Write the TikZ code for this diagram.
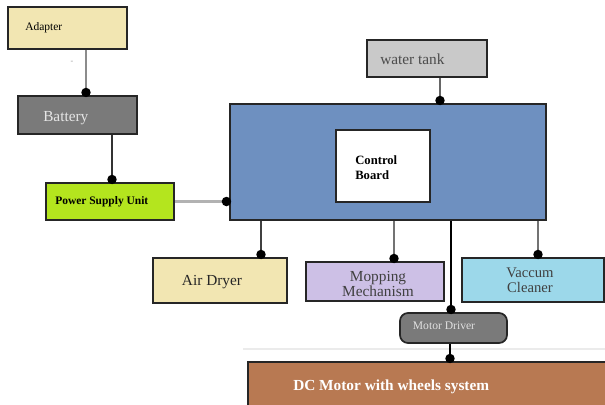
\documentclass[tikz,border=0pt]{standalone}
\usepackage{fontspec}
\setmainfont{Liberation Serif}
\usetikzlibrary{arrows.meta}
\definecolor{sand}{RGB}{242,230,178}
\definecolor{slate}{RGB}{122,122,122}
\definecolor{lime}{RGB}{180,229,30}
\definecolor{steel}{RGB}{110,144,192}
\definecolor{silver}{RGB}{201,201,201}
\definecolor{lilac}{RGB}{205,192,230}
\definecolor{sky}{RGB}{156,216,234}
\definecolor{rust}{RGB}{184,121,82}
\tikzset{
  box/.style={draw=black!85, line width=1.3pt, inner sep=0pt, align=center},
  wire/.style={line width=1.2pt, -{Circle[length=7pt, color=black]}, shorten >=-1.5pt},
  lbl/.style={inner sep=0pt, align=left}
}
\begin{document}
\begin{tikzpicture}[x=0.75pt,y=-0.75pt]
\useasboundingbox (0,0) rectangle (605,404);
% power chain
\node[box, fill=sand, minimum width=89.25pt, minimum height=31.5pt] (adapter) at (67.5,28) {};
\node[lbl, anchor=west, font=\fontsize{8.6}{9}\selectfont] (adaptertxt) at (25,28) {Adapter};
\node[text=black!40, font=\fontsize{6}{7}\selectfont] (tick) at (72,62) {-};
\node[box, fill=slate, minimum width=89.25pt, minimum height=28.5pt] (battery) at (77.5,115) {};
\node[lbl, anchor=west, text=white!90!black, font=\fontsize{11.5}{12}\selectfont] (batterytxt) at (43,118) {Battery};
\node[box, fill=lime, minimum width=96pt, minimum height=27.75pt] (psu) at (110,201.5) {};
\node[lbl, anchor=west, font=\bfseries\fontsize{8.6}{9}\selectfont] (psutxt) at (55,201.5) {Power Supply Unit};
% controller
\node[box, fill=steel, minimum width=237pt, minimum height=87pt] (main) at (388,162) {};
\node[box, fill=white, line width=1.8pt, minimum width=70.5pt, minimum height=54pt] (board) at (383,166) {};
\node[lbl, anchor=west, font=\bfseries\fontsize{9.5}{11}\selectfont] (boardtxt) at (355,167.5) {Control\\Board};
\node[box, fill=silver, minimum width=90pt, minimum height=27.75pt] (tank) at (427,58.5) {};
\node[lbl, anchor=west, text=black!70, font=\fontsize{11.5}{12}\selectfont] (tanktxt) at (380,59) {water tank};
% outputs
\node[box, fill=sand, minimum width=100.5pt, minimum height=33.75pt] (air) at (220,280.5) {};
\node[lbl, text=black!85, font=\fontsize{11.5}{12}\selectfont] (airtxt) at (212,282) {Air Dryer};
\node[box, fill=lilac, minimum width=103.5pt, minimum height=29.25pt] (mop) at (375,281.5) {};
\node[lbl, align=center, text=black!75, font=\fontsize{11.5}{11.5}\selectfont] (moptxt) at (378,284) {Mopping\\Mechanism};
\node[box, fill=sky, minimum width=106.5pt, minimum height=33pt] (vac) at (533,280) {};
\node[lbl, align=center, text=black!75, font=\fontsize{11}{11.5}\selectfont] (vactxt) at (530,280) {Vaccum\\Cleaner};
% drive
\draw[black!8, line width=0.8pt] (243,349) -- (605,349);
\node[box, fill=slate, rounded corners=6pt, minimum width=80.25pt, minimum height=22.5pt] (driver) at (453.5,328) {};
\node[lbl, text=white!88!black, font=\fontsize{8.7}{9}\selectfont] (drivertxt) at (444,326) {Motor Driver};
\node[box, fill=rust, minimum width=271.5pt, minimum height=36pt] (motor) at (429,386) {};
\node[lbl, anchor=west, text=white, font=\bfseries\fontsize{11.5}{12}\selectfont] (motortxt) at (293,387) {DC Motor with wheels system};
% connectors
\draw[wire, black!45] (adapter.south -| 86,0) -- (battery.north -| 86,0);
\draw[wire, black!80] (battery.south -| 112,0) -- (psu.north -| 112,0);
\draw[wire, black!30, line width=1.6pt] (psu.east) -- (main.west |- psu.east);
\draw[wire, black!60] (tank.south -| 440,0) -- (main.north -| 440,0);
\draw[wire, black!75] (main.south -| 261,0) -- (air.north -| 261,0);
\draw[wire, black!55] (main.south -| 394,0) -- (mop.north -| 394,0);
\draw[wire, black!55] (main.south -| 538,0) -- (vac.north -| 538,0);
\draw[wire, black] (main.south -| 451,0) -- (driver.north -| 451,0);
\draw[wire, black] (driver.south -| 450,0) -- (motor.north -| 450,0);
\end{tikzpicture}
\end{document}
